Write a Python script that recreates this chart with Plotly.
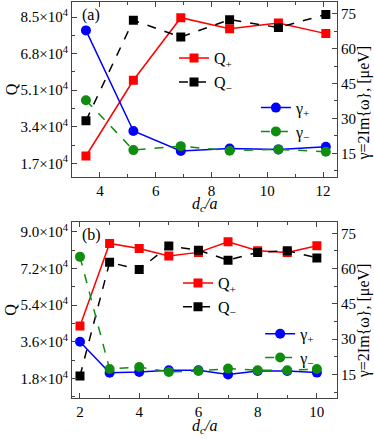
import plotly.graph_objects as go

# ==========================
# DATA
# ==========================

# panel (a)
dca_a = [3.5, 5.2, 6.9, 8.65, 10.4, 12.1]
q_plus_a = [20400, 55600, 84700, 79600, 82200, 77300]
q_minus_a = [36800, 83500, 75700, 83800, 80100, 86200]
g_plus_a = [67.8, 24.6, 16.0, 17.1, 16.7, 17.8]
g_minus_a = [37.8, 16.4, 18.1, 16.1, 16.7, 15.7]

# panel (b)
dca_b = [2, 3, 4, 5, 6, 7, 8, 9, 10]
q_plus_b = [43800, 84300, 81800, 78100, 79900, 85100, 80700, 79900, 83100]
q_minus_b = [19300, 75000, 71500, 83000, 81000, 76100, 79900, 80700, 77200]
g_plus_b = [28.9, 15.7, 16.1, 16.8, 16.8, 15.0, 16.5, 16.5, 15.8]
g_minus_b = [65.0, 17.3, 18.2, 16.1, 16.5, 17.5, 16.8, 16.8, 17.3]

# tick labels
q_ticks_a = [17000, 34000, 51000, 68000, 85000]
q_text_a = ["1.7×10<sup>4</sup>", "3.4×10<sup>4</sup>", "5.1×10<sup>4</sup>",
            "6.8×10<sup>4</sup>", "8.5×10<sup>4</sup>"]
q_ticks_b = [18000, 36000, 54000, 72000, 90000]
q_text_b = ["1.8×10<sup>4</sup>", "3.6×10<sup>4</sup>", "5.4×10<sup>4</sup>",
            "7.2×10<sup>4</sup>", "9.0×10<sup>4</sup>"]

# ==========================
# STYLE
# ==========================

FONT = "Liberation Serif, DejaVu Serif, serif"
RED = "#ff0000"
BLACK = "#000000"
BLUE = "#0000ff"
GREEN = "#108c10"
AXC = "#444444"

fig = go.Figure()


def add_panel(x, qp, qm, gp, gm, xa, ya, ya2, lq, lg):
    fig.add_trace(go.Scatter(
        x=x, y=qp, name="Q<sub>+</sub>", xaxis=xa, yaxis=ya, legend=lq,
        mode="lines+markers", line=dict(color=RED, width=1.5),
        marker=dict(symbol="square", size=9, color=RED)))
    fig.add_trace(go.Scatter(
        x=x, y=qm, name="Q<sub>−</sub>", xaxis=xa, yaxis=ya, legend=lq,
        mode="lines+markers", line=dict(color=BLACK, width=1.5, dash="dash"),
        marker=dict(symbol="square", size=9, color=BLACK)))
    fig.add_trace(go.Scatter(
        x=x, y=gp, name="γ<sub>+</sub>", xaxis=xa, yaxis=ya2, legend=lg,
        mode="lines+markers", line=dict(color=BLUE, width=1.5),
        marker=dict(symbol="circle", size=10, color=BLUE)))
    fig.add_trace(go.Scatter(
        x=x, y=gm, name="γ<sub>−</sub>", xaxis=xa, yaxis=ya2, legend=lg,
        mode="lines+markers", line=dict(color=GREEN, width=1.5, dash="dash"),
        marker=dict(symbol="circle", size=10, color=GREEN)))


add_panel(dca_a, q_plus_a, q_minus_a, g_plus_a, g_minus_a,
          "x", "y", "y2", "legend", "legend2")
add_panel(dca_b, q_plus_b, q_minus_b, g_plus_b, g_minus_b,
          "x2", "y3", "y4", "legend3", "legend4")

tickfont = dict(family=FONT, size=15, color="black")
common = dict(showline=True, linecolor=AXC, linewidth=1, ticks="inside",
              ticklen=5, tickcolor=AXC, showgrid=False, zeroline=False,
              tickfont=tickfont, automargin=False)
minor_x = dict(dtick=1, ticks="inside", ticklen=3, tickcolor=AXC)
minor_g = dict(dtick=7.5, tick0=0, ticks="inside", ticklen=3, tickcolor=AXC)

top_dom = [0.559, 1.0]
bot_dom = [0.0, 0.4455]

fig.update_layout(
    xaxis=dict(domain=[0, 1], range=[3, 12.5], anchor="y", dtick=2,
               mirror="ticks", minor=minor_x, **common),
    yaxis=dict(domain=top_dom, range=[10800, 92000], anchor="x",
               tickmode="array", tickvals=q_ticks_a, ticktext=q_text_a,
               minor=dict(dtick=8500, tick0=0, ticks="inside", ticklen=3,
                          tickcolor=AXC), **common),
    yaxis2=dict(domain=top_dom, range=[5, 80], anchor="x", overlaying="y",
                side="right", dtick=15, tick0=0, minor=minor_g, **common),
    xaxis2=dict(domain=[0, 1], range=[1.73, 10.68], anchor="y3", dtick=2,
                mirror="ticks", minor=minor_x, **common),
    yaxis3=dict(domain=bot_dom, range=[8500, 95000], anchor="x2",
                tickmode="array", tickvals=q_ticks_b, ticktext=q_text_b,
                minor=dict(dtick=9000, tick0=0, ticks="inside", ticklen=3,
                           tickcolor=AXC), **common),
    yaxis4=dict(domain=bot_dom, range=[5, 80], anchor="x2", overlaying="y3",
                side="right", dtick=15, tick0=0, minor=minor_g, **common),
)

leg = dict(bgcolor="rgba(0,0,0,0)", borderwidth=0, xanchor="left",
           yanchor="top", font=dict(family=FONT, size=16, color="black"),
           tracegroupgap=0, itemwidth=30)
fig.update_layout(
    legend=dict(x=0.385, y=0.901, **leg),
    legend2=dict(x=0.694, y=0.776, **leg),
    legend3=dict(x=0.40, y=0.333, **leg),
    legend4=dict(x=0.71, y=0.205, **leg),
)

ann = dict(xref="paper", yref="paper", showarrow=False,
           xanchor="center", yanchor="middle",
           font=dict(family=FONT, size=16, color="black"))
fig.update_layout(annotations=[
    dict(text="(a)", x=0.03, y=0.995, **{**ann, "xanchor": "left",
                                         "yanchor": "top"}),
    dict(text="(b)", x=0.03, y=0.44, **{**ann, "xanchor": "left",
                                        "yanchor": "top"}),
    dict(text="Q", x=-0.23, y=0.78, textangle=-90, **ann),
    dict(text="Q", x=-0.23, y=0.223, textangle=-90, **ann),
    dict(text="γ=2Im{ω}, [μeV]", x=1.1, y=0.745, textangle=-90, **ann),
    dict(text="γ=2Im{ω}, [μeV]", x=1.1, y=0.195, textangle=-90, **ann),
    dict(text="<i>d</i><sub><i>c</i></sub><i>/a</i>", x=0.5, y=0.489, **ann),
    dict(text="<i>d</i><sub><i>c</i></sub><i>/a</i>", x=0.5, y=-0.073, **ann),
])

fig.update_layout(
    template="none",
    width=374, height=439,
    margin=dict(l=72, r=37, t=2, b=41),
    paper_bgcolor="white", plot_bgcolor="white",
    font=dict(family=FONT, size=15, color="black"),
    showlegend=True,
)

# page body has an 8px default margin; drop it so the figure sits at 0,0
fig.write_html("out.html", config={"displayModeBar": False},
               post_script="document.body.style.margin='0px';")
